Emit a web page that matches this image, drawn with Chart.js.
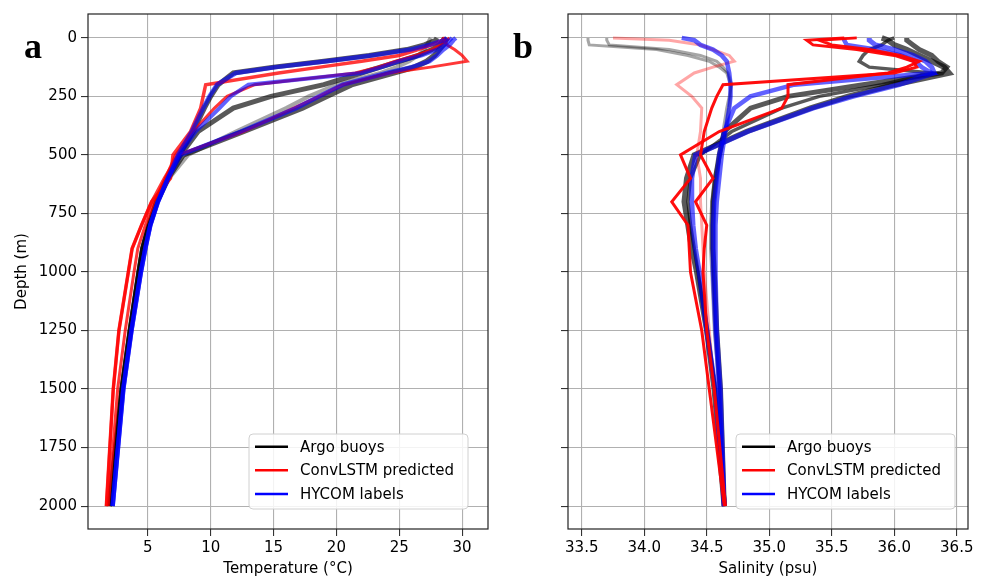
<!DOCTYPE html>
<html>
<head>
<meta charset="utf-8">
<script src="https://cdn.jsdelivr.net/npm/chart.js@4.4.0/dist/chart.umd.min.js"></script>
<style>
  html, body { margin: 0; padding: 0; background: #fff; }
  #wrap { position: relative; width: 982px; height: 578px; }
  .panel { position: absolute; top: 0; width: 491px; height: 578px; }
</style>
</head>
<body>
<div id="wrap">
  <div class="panel" style="left:0"><canvas id="tempChart" width="491" height="578"></canvas></div>
  <div class="panel" style="left:491px"><canvas id="salChart" width="491" height="578"></canvas></div>
</div>
<script>
/* Depth levels (m) shared by every profile */
let depths = [0, 10, 30, 50, 75, 100, 125, 150, 200, 250, 300, 400, 500, 600, 700, 800, 900, 1000, 1250, 1500, 2000]

/* Temperature profiles (°C) */
let argoTemp1 = [28.0, 27.9, 27.0, 25.6, 22.6, 19.0, 15.0, 11.8, 10.6, 10.0, 9.5, 8.6, 7.5, 6.5, 5.7, 5.1, 4.6, 4.3, 3.6, 2.95, 1.95]
let argoTemp2 = [28.6, 28.5, 28.2, 27.6, 26.5, 25.0, 23.5, 22.0, 19.0, 14.8, 11.8, 9.0, 7.6, 6.5, 5.7, 5.1, 4.6, 4.3, 3.6, 2.95, 1.95]
let argoTemp3 = [28.8, 28.7, 28.5, 28.2, 27.8, 27.2, 26.2, 24.5, 21.2, 19.2, 17.3, 12.6, 7.8, 6.6, 5.7, 5.1, 4.6, 4.3, 3.6, 2.95, 1.95]
let argoTemp4 = [27.5, 27.4, 27.2, 27.0, 26.5, 25.8, 24.8, 23.5, 20.0, 17.8, 16.0, 12.0, 8.2, 6.7, 5.8, 5.2, 4.7, 4.35, 3.65, 3.0, 2.0]
let hycomTemp1 = [28.8, 28.6, 27.4, 25.9, 22.8, 19.2, 15.2, 12.0, 10.5, 9.9, 9.4, 8.5, 7.4, 6.6, 5.8, 5.2, 4.8, 4.45, 3.7, 3.05, 2.2]
let hycomTemp2 = [29.2, 29.0, 28.6, 28.0, 26.8, 25.0, 23.6, 22.0, 13.0, 11.6, 10.7, 8.8, 7.5, 6.6, 5.8, 5.2, 4.8, 4.45, 3.7, 3.05, 2.2]
let hycomTemp3 = [29.5, 29.3, 29.0, 28.5, 28.0, 27.4, 26.0, 24.0, 20.5, 18.6, 16.8, 12.4, 7.6, 6.6, 5.8, 5.2, 4.8, 4.45, 3.7, 3.05, 2.2]
let convTemp1 = [28.6, 28.4, 27.6, 26.5, 25.0, 22.0, 18.7, 15.4, 9.6, 9.4, 9.2, 8.4, 7.0, 6.8, 5.3, 4.5, 3.75, 3.45, 2.7, 2.25, 1.7]
let convTemp2 = [29.0, 28.8, 28.3, 27.6, 26.3, 24.7, 23.3, 21.5, 13.5, 11.3, 10.3, 8.6, 7.2, 6.4, 5.5, 4.8, 4.2, 3.9, 3.2, 2.6, 1.85]
let convTemp3 = [28.5, 28.6, 28.8, 29.4, 30.0, 30.4, 27.5, 24.2, 20.5, 18.6, 16.6, 12.6, 7.4, 6.3, 5.3, 4.5, 3.75, 3.45, 2.7, 2.25, 1.7]

/* Salinity profiles (psu) */
let argoSal1 = [33.55, 33.55, 33.56, 34.1, 34.35, 34.52, 34.6, 34.66, 34.69, 34.69, 34.68, 34.65, 34.61, 34.57, 34.55, 34.54, 34.54, 34.55, 34.57, 34.6, 34.64]
let argoSal2 = [33.7, 33.7, 33.72, 34.2, 34.45, 34.58, 34.63, 34.67, 34.7, 34.68, 34.66, 34.63, 34.6, 34.56, 34.54, 34.53, 34.53, 34.54, 34.56, 34.6, 34.64]
let argoSal3 = [36.1, 36.1, 36.15, 36.2, 36.3, 36.35, 36.42, 36.38, 35.75, 35.15, 34.85, 34.64, 34.6, 34.57, 34.55, 34.55, 34.55, 34.56, 34.58, 34.61, 34.64]
let argoSal4 = [35.9, 35.95, 36.0, 36.1, 36.2, 36.3, 36.4, 36.44, 36.0, 35.63, 35.33, 34.82, 34.4, 34.34, 34.32, 34.35, 34.38, 34.42, 34.5, 34.56, 34.64]
let argoSal5 = [36.0, 35.95, 35.9, 35.8, 35.75, 35.72, 35.8, 36.3, 35.9, 35.4, 35.1, 34.7, 34.45, 34.37, 34.35, 34.37, 34.4, 34.43, 34.5, 34.57, 34.64]
let hycomSal1 = [34.3, 34.4, 34.45, 34.55, 34.62, 34.66, 34.67, 34.68, 34.69, 34.69, 34.68, 34.65, 34.62, 34.6, 34.58, 34.57, 34.57, 34.57, 34.58, 34.61, 34.64]
let hycomSal2 = [35.6, 35.6, 35.62, 35.85, 36.05, 36.17, 36.22, 36.3, 35.2, 34.85, 34.72, 34.64, 34.6, 34.58, 34.56, 34.55, 34.55, 34.55, 34.57, 34.6, 34.64]
let hycomSal3 = [35.8, 35.8, 35.85, 36.0, 36.15, 36.25, 36.3, 36.32, 36.04, 35.67, 35.35, 34.83, 34.41, 34.38, 34.38, 34.39, 34.41, 34.44, 34.5, 34.57, 34.64]
let convSal1 = [33.75, 34.2, 34.45, 34.55, 34.68, 34.72, 34.55, 34.4, 34.26, 34.38, 34.46, 34.45, 34.42, 34.45, 34.45, 34.46, 34.47, 34.48, 34.52, 34.56, 34.64]
let convSal2 = [35.6, 35.3, 35.35, 35.7, 36.0, 36.15, 36.18, 36.0, 34.63, 34.58, 34.54, 34.48, 34.45, 34.55, 34.41, 34.5, 34.48, 34.47, 34.5, 34.56, 34.65]
let convSal3 = [35.7, 35.4, 35.5, 35.8, 36.05, 36.2, 36.1, 35.95, 35.15, 35.15, 35.1, 34.6, 34.29, 34.37, 34.22, 34.35, 34.36, 34.37, 34.46, 34.52, 34.64]

/* Axis ranges and tick labels */
let depthMin = -102
let depthMax = 2098
let depthTicks = [0, 250, 500, 750, 1000, 1250, 1500, 1750, 2000]
let tempMin = 0.24
let tempMax = 32.06
let tempTicks = [5, 10, 15, 20, 25, 30]
let salMin = 33.39
let salMax = 36.59
let salTicks = [33.5, 34.0, 34.5, 35.0, 35.5, 36.0, 36.5]

let legendLabels = ['Argo buoys', 'ConvLSTM predicted', 'HYCOM labels']
let legendColors = ['#000000', '#ff0000', '#0000ff']

Chart.defaults.font.family = 'DejaVu Sans'
Chart.defaults.color = '#000'

// build one line dataset from a profile
function profile(values, color, width) {
    return {
        data: values.map((v, i) => ({ x: v, y: depths[i] })),
        borderColor: color,
        borderWidth: width,
        pointRadius: 0,
        tension: 0,
        fill: false
    }
}

// frame, legend and panel letter
let panelDecor = {
    id: 'panelDecor',
    afterDraw(chart, args, opts) {
        let ctx = chart.ctx
        let a = chart.chartArea
        ctx.save()
        ctx.strokeStyle = '#222'
        ctx.lineWidth = 1.2
        ctx.strokeRect(a.left, a.top, a.right - a.left, a.bottom - a.top)

        ctx.fillStyle = '#000'
        ctx.font = 'bold 36px "Liberation Serif"'
        ctx.textBaseline = 'alphabetic'
        ctx.fillText(opts.letter, opts.letterX, opts.letterY)

        // legend box
        let x0 = opts.legendX, y0 = 434, w = 219, h = 75, r = 4
        ctx.beginPath()
        ctx.moveTo(x0 + r, y0)
        ctx.arcTo(x0 + w, y0, x0 + w, y0 + h, r)
        ctx.arcTo(x0 + w, y0 + h, x0, y0 + h, r)
        ctx.arcTo(x0, y0 + h, x0, y0, r)
        ctx.arcTo(x0, y0, x0 + w, y0, r)
        ctx.closePath()
        ctx.fillStyle = 'rgba(255,255,255,0.85)'
        ctx.fill()
        ctx.strokeStyle = '#d0d0d0'
        ctx.lineWidth = 1
        ctx.stroke()

        ctx.font = '15px "DejaVu Sans"'
        ctx.textBaseline = 'middle'
        legendLabels.forEach((label, i) => {
            let yy = y0 + 12.7 + i * 23.6
            ctx.strokeStyle = legendColors[i]
            ctx.lineWidth = 2.5
            ctx.beginPath()
            ctx.moveTo(x0 + 6, yy)
            ctx.lineTo(x0 + 39, yy)
            ctx.stroke()
            ctx.fillStyle = '#000'
            ctx.fillText(label, x0 + 51, yy + 1)
        })
        ctx.restore()
    }
}

let gridStyle = { color: '#b0b0b0', lineWidth: 1.1, tickLength: 7, tickColor: '#333', tickWidth: 1.1 }

function makeOptions(xMin, xMax, xTicks, xTitle, xFormat, showDepthLabels, padRight, decor) {
    return {
        responsive: false,
        animation: false,
        layout: { padding: { top: 14, right: padRight, left: 0, bottom: 0 } },
        plugins: { legend: { display: false }, tooltip: { enabled: false }, panelDecor: decor },
        scales: {
            x: {
                type: 'linear', min: xMin, max: xMax,
                ticks: { padding: 3, font: { size: 15 }, color: '#000', callback: xFormat },
                afterBuildTicks(scale) { scale.ticks = xTicks.map(v => ({ value: v })) },
                grid: gridStyle,
                border: { display: false },
                title: { display: true, text: xTitle, font: { size: 15 }, color: '#000', padding: { top: 0, bottom: 0 } },
                afterFit(scale) { scale.height = 49 }
            },
            y: {
                type: 'linear', reverse: true, min: depthMin, max: depthMax,
                ticks: { padding: 4, font: { size: 15 }, color: '#000',
                    callback: v => showDepthLabels ? String(v) : '' },
                afterBuildTicks(scale) { scale.ticks = depthTicks.map(v => ({ value: v })) },
                grid: gridStyle,
                border: { display: false },
                title: { display: showDepthLabels, text: 'Depth (m)', font: { size: 15 }, color: '#000', padding: { top: 13, bottom: 0 } },
                afterFit(scale) { scale.width = showDepthLabels ? 88 : 77 }
            }
        }
    }
}

let black = 'rgba(0,0,0,0.65)'
let blackFaint = 'rgba(0,0,0,0.35)'
let blue = 'rgba(0,0,255,0.62)'
let red = 'rgba(255,0,0,0.78)'
let redSolid = 'rgba(255,0,0,0.95)'
let redFaint = 'rgba(255,0,0,0.35)'

// listed bottom to top, reversed because Chart.js paints dataset 0 last
let tempSets = [
    profile(argoTemp1, black, 5), profile(argoTemp2, black, 5), profile(argoTemp3, black, 5.5), profile(argoTemp4, blackFaint, 4),
    profile(convTemp1, red, 3.5), profile(convTemp2, red, 3), profile(convTemp3, red, 3),
    profile(hycomTemp1, blue, 4.5), profile(hycomTemp2, blue, 4), profile(hycomTemp3, blue, 4.5)
].reverse()

let salSets = [
    profile(argoSal1, blackFaint, 3), profile(argoSal2, blackFaint, 3), profile(argoSal3, black, 5),
    profile(argoSal4, black, 5.5), profile(argoSal5, black, 3.5),
    profile(convSal1, redFaint, 3),
    profile(hycomSal1, blue, 4.5), profile(hycomSal2, blue, 4.5), profile(hycomSal3, blue, 5),
    profile(convSal2, redSolid, 3), profile(convSal3, redSolid, 3)
].reverse()

let tempChart = new Chart(document.querySelector('#tempChart').getContext('2d'), {
    type: 'line',
    data: { datasets: tempSets },
    options: makeOptions(tempMin, tempMax, tempTicks, 'Temperature (°C)', v => String(v), true, 3,
        { letter: 'a', letterX: 24, letterY: 58, legendX: 249 }),
    plugins: [panelDecor]
})

let salChart = new Chart(document.querySelector('#salChart').getContext('2d'), {
    type: 'line',
    data: { datasets: salSets },
    options: makeOptions(salMin, salMax, salTicks, 'Salinity (psu)', v => Number(v).toFixed(1), false, 14,
        { letter: 'b', letterX: 22, letterY: 58, legendX: 245 }),
    plugins: [panelDecor]
})
</script>
</body>
</html>
